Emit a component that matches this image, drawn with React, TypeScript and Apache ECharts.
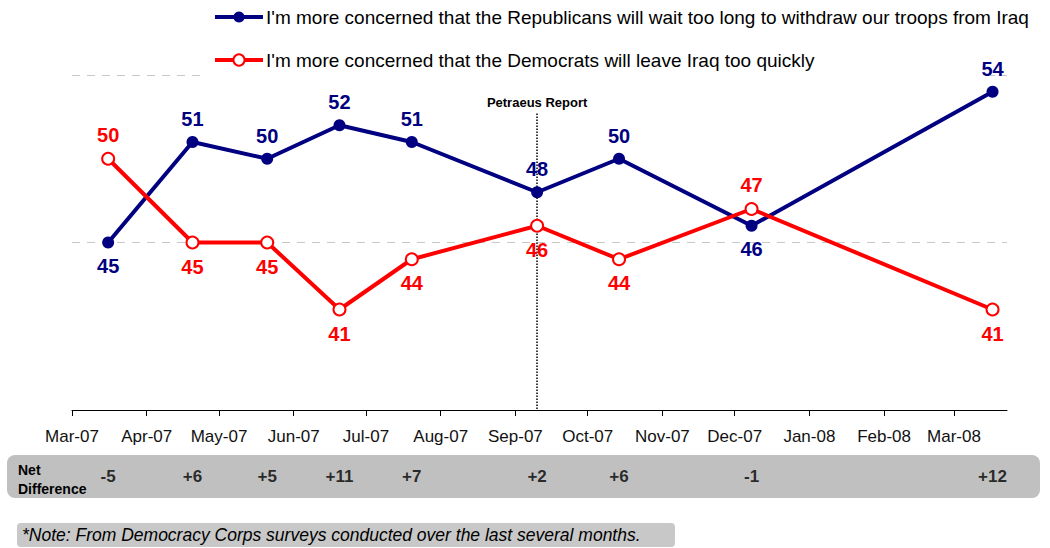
import React, { useEffect, useRef } from 'react';
import * as echarts from 'echarts';

const FONT = '"Liberation Sans", Arial, sans-serif';

const seriesNames = [
  "I'm more concerned that the Republicans will wait too long to withdraw our troops from Iraq",
  "I'm more concerned that the Democrats will leave Iraq too quickly",
];
const surveyDates = ['2007-03-16', '2007-04-20', '2007-05-21', '2007-06-20', '2007-07-20', '2007-09-10', '2007-10-14', '2007-12-08', '2008-03-17'];
const republicansWait = [45, 51, 50, 52, 51, 48, 50, 46, 54];
const democratsLeave = [50, 45, 45, 41, 44, 46, 44, 47, 41];
const netDifference = ['-5', '+6', '+5', '+11', '+7', '+2', '+6', '-1', '+12'];
const blueLabelPos = ['bottom', 'top', 'top', 'top', 'top', 'top', 'top', 'bottom', 'top'];
const redLabelPos = ['top', 'bottom', 'bottom', 'bottom', 'bottom', 'bottom', 'bottom', 'top', 'bottom'];
const tickDates = ['2007-03-01', '2007-04-01', '2007-05-01', '2007-06-01', '2007-07-01', '2007-08-01', '2007-09-01', '2007-10-01', '2007-11-01', '2007-12-01', '2008-01-01', '2008-02-01', '2008-03-01'];
const tickLabels = ['Mar-07', 'Apr-07', 'May-07', 'Jun-07', 'Jul-07', 'Aug-07', 'Sep-07', 'Oct-07', 'Nov-07', 'Dec-07', 'Jan-08', 'Feb-08', 'Mar-08'];
const axisStart = '2007-03-01';
const axisEnd = '2008-03-23';
const petraeusDate = '2007-09-10';
const petraeusLabel = 'Petraeus Report';
const petraeusTop = 52.7;
const yMin = 35;
const yMax = 55;
const yInterval = 10;

const ts = (s: string) => {
  const [y, m, d] = s.split('-').map(Number);
  return new Date(y, m - 1, d).getTime();
};

export default function App() {
  const ref = useRef<HTMLDivElement>(null);
  useEffect(() => {
    if (!ref.current) return;
    const chart = echarts.init(ref.current, undefined, { renderer: 'svg' });
    const tickTs = tickDates.map(ts);
    const labelFor = (v: number) => {
      const i = tickTs.indexOf(v);
      return i >= 0 ? tickLabels[i] : '';
    };
    const option: any = {
      animation: false,
      backgroundColor: '#fff',
      textStyle: { fontFamily: FONT },
      legend: {
        orient: 'vertical',
        left: 213,
        top: 7,
        padding: 0,
        itemGap: 23,
        itemWidth: 48,
        itemHeight: 14,
        data: seriesNames,
        lineStyle: { width: 4 },
        textStyle: { fontSize: 19, color: '#000', fontFamily: FONT, lineHeight: 20, padding: [0, 0, 0, -2] },
      },
      grid: [
        { left: 72, right: 43, top: 75, bottom: 138 },
        { left: 72, right: 43, top: 455, height: 42 },
      ],
      xAxis: [
        {
          type: 'value',
          gridIndex: 0,
          min: ts(axisStart),
          max: ts(axisEnd),
          axisLine: { show: true, lineStyle: { color: '#000', width: 1 } },
          axisTick: { show: true, customValues: tickTs, length: 6, lineStyle: { color: '#000', width: 1 } },
          axisLabel: {
            show: true,
            customValues: tickTs,
            formatter: (v: number) => labelFor(v),
            fontSize: 17,
            color: '#111',
            fontFamily: FONT,
            margin: 18,
            hideOverlap: false,
            showMinLabel: true,
            showMaxLabel: true,
          },
          splitLine: { show: false },
        },
        {
          type: 'value',
          gridIndex: 1,
          min: ts(axisStart),
          max: ts(axisEnd),
          show: false,
        },
      ],
      yAxis: [
        {
          type: 'value',
          gridIndex: 0,
          min: yMin,
          max: yMax,
          interval: yInterval,
          axisLine: { show: false },
          axisTick: { show: false },
          axisLabel: { show: false },
          splitLine: { show: true, lineStyle: { color: '#C8C8C8', width: 1, type: [8, 7] } },
        },
        { type: 'value', gridIndex: 1, min: 0, max: 1, show: false },
      ],
      graphic: [
        { type: 'rect', z: 1, shape: { x: 205, y: 0, width: 785, height: 80 }, style: { fill: '#fff' } },
        { type: 'rect', z: 0, shape: { x: 7, y: 455, width: 1033, height: 43, r: 8 }, style: { fill: '#C0C0C0' } },
        { type: 'text', z: 1, x: 18, y: 470, style: { text: 'Net', font: `bold 14px ${FONT}`, fill: '#000', textVerticalAlign: 'middle' } },
        { type: 'text', z: 1, x: 18, y: 489, style: { text: 'Difference', font: `bold 14px ${FONT}`, fill: '#000', textVerticalAlign: 'middle' } },
        { type: 'rect', z: 0, shape: { x: 17, y: 523, width: 658, height: 24, r: 4 }, style: { fill: '#C8C8C8' } },
        { type: 'text', z: 1, x: 22, y: 535, style: { text: '*Note: From Democracy Corps surveys conducted over the last several months.', font: `italic 17.5px ${FONT}`, fill: '#000', textVerticalAlign: 'middle' } },
      ],
      series: [
        {
          name: seriesNames[0],
          type: 'line',
          xAxisIndex: 0,
          yAxisIndex: 0,
          z: 3,
          data: surveyDates.map((d, i) => ({ value: [ts(d), republicansWait[i]], label: { position: blueLabelPos[i] } })),
          symbol: 'circle',
          symbolSize: 12,
          lineStyle: { color: '#000080', width: 4 },
          itemStyle: { color: '#000080' },
          label: {
            show: true,
            fontSize: 20,
            fontWeight: 'bold',
            color: '#000080',
            fontFamily: FONT,
            distance: 7,
            formatter: (p: any) => String(p.value[1]),
          },
          markLine: {
            silent: true,
            z: 1,
            symbol: ['none', 'none'],
            lineStyle: { type: 'dotted', color: '#000', width: 1.5 },
            label: {
              show: true,
              position: 'start',
              formatter: petraeusLabel,
              fontSize: 13,
              fontWeight: 'bold',
              color: '#000',
              fontFamily: FONT,
              distance: 5,
            },
            data: [[{ coord: [ts(petraeusDate), petraeusTop] }, { coord: [ts(petraeusDate), yMin] }]],
          },
        },
        {
          name: seriesNames[1],
          type: 'line',
          xAxisIndex: 0,
          yAxisIndex: 0,
          z: 4,
          data: surveyDates.map((d, i) => ({ value: [ts(d), democratsLeave[i]], label: { position: redLabelPos[i] } })),
          symbol: 'circle',
          symbolSize: 12,
          lineStyle: { color: '#FF0000', width: 4 },
          itemStyle: { color: '#fff', borderColor: '#FF0000', borderWidth: 2 },
          label: {
            show: true,
            fontSize: 20,
            fontWeight: 'bold',
            color: '#FF0000',
            fontFamily: FONT,
            distance: 7,
            formatter: (p: any) => String(p.value[1]),
          },
        },
        {
          name: 'Net Difference',
          type: 'scatter',
          xAxisIndex: 1,
          yAxisIndex: 1,
          z: 5,
          symbolSize: 1,
          itemStyle: { color: 'rgba(0,0,0,0)' },
          data: surveyDates.map((d, i) => ({ value: [ts(d), 0.5], name: netDifference[i] })),
          label: {
            show: true,
            position: 'inside',
            fontSize: 17,
            fontWeight: 'bold',
            color: '#000',
            fontFamily: FONT,
            formatter: (p: any) => p.name,
          },
        },
      ],
    };
    chart.setOption(option);
    return () => chart.dispose();
  }, []);
  return <div ref={ref} style={{ width: 1050, height: 548, position: 'absolute', left: 0, top: 0 }} />;
}
